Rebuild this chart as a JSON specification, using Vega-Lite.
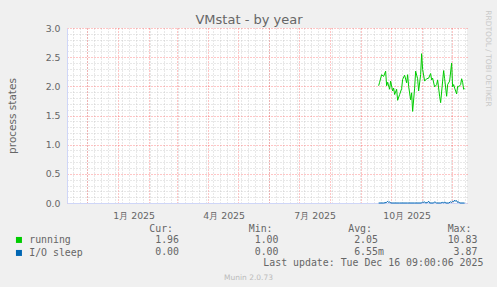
{
  "$schema": "https://vega.github.io/schema/vega-lite/v6.json",
  "width": 400,
  "height": 175,
  "autosize": {"type": "none"},
  "padding": {"left": 67, "top": 28, "right": 30, "bottom": 84},
  "background": "#F0F0F0",
  "title": {"text": "VMstat - by year", "anchor": "middle", "dx": -18, "fontSize": 13, "font": "DejaVu Sans", "fontWeight": "normal", "color": "#666666", "baseline": "alphabetic", "offset": -27},
  "config": {"view": {"fill": "#FFFFFF", "stroke": null}, "font": "DejaVu Sans"},
  "datasets": {
    "vmstat": [
      {"series": "running", "date": "2025-09-19", "value": 2.01},
      {"series": "running", "date": "2025-09-20", "value": 2.07},
      {"series": "running", "date": "2025-09-22", "value": 2.20},
      {"series": "running", "date": "2025-09-24", "value": 2.17},
      {"series": "running", "date": "2025-09-26", "value": 2.26},
      {"series": "running", "date": "2025-09-27", "value": 2.01},
      {"series": "running", "date": "2025-09-28", "value": 2.07},
      {"series": "running", "date": "2025-09-30", "value": 1.95},
      {"series": "running", "date": "2025-10-01", "value": 2.09},
      {"series": "running", "date": "2025-10-03", "value": 1.92},
      {"series": "running", "date": "2025-10-04", "value": 1.97},
      {"series": "running", "date": "2025-10-05", "value": 1.86},
      {"series": "running", "date": "2025-10-07", "value": 1.95},
      {"series": "running", "date": "2025-10-08", "value": 1.76},
      {"series": "running", "date": "2025-10-10", "value": 1.86},
      {"series": "running", "date": "2025-10-12", "value": 1.96},
      {"series": "running", "date": "2025-10-13", "value": 2.12},
      {"series": "running", "date": "2025-10-15", "value": 2.19},
      {"series": "running", "date": "2025-10-17", "value": 2.06},
      {"series": "running", "date": "2025-10-18", "value": 2.20},
      {"series": "running", "date": "2025-10-19", "value": 2.00},
      {"series": "running", "date": "2025-10-21", "value": 1.77},
      {"series": "running", "date": "2025-10-22", "value": 1.89},
      {"series": "running", "date": "2025-10-23", "value": 1.57},
      {"series": "running", "date": "2025-10-25", "value": 1.97},
      {"series": "running", "date": "2025-10-26", "value": 2.26},
      {"series": "running", "date": "2025-10-28", "value": 2.13},
      {"series": "running", "date": "2025-10-29", "value": 1.92},
      {"series": "running", "date": "2025-10-31", "value": 2.20},
      {"series": "running", "date": "2025-11-01", "value": 2.56},
      {"series": "running", "date": "2025-11-02", "value": 2.29},
      {"series": "running", "date": "2025-11-04", "value": 2.09},
      {"series": "running", "date": "2025-11-06", "value": 2.13},
      {"series": "running", "date": "2025-11-08", "value": 2.14},
      {"series": "running", "date": "2025-11-10", "value": 2.22},
      {"series": "running", "date": "2025-11-11", "value": 2.11},
      {"series": "running", "date": "2025-11-12", "value": 2.14},
      {"series": "running", "date": "2025-11-14", "value": 1.99},
      {"series": "running", "date": "2025-11-16", "value": 2.03},
      {"series": "running", "date": "2025-11-17", "value": 2.11},
      {"series": "running", "date": "2025-11-19", "value": 1.83},
      {"series": "running", "date": "2025-11-20", "value": 1.72},
      {"series": "running", "date": "2025-11-22", "value": 2.09},
      {"series": "running", "date": "2025-11-23", "value": 2.27},
      {"series": "running", "date": "2025-11-24", "value": 2.13},
      {"series": "running", "date": "2025-11-26", "value": 1.83},
      {"series": "running", "date": "2025-11-27", "value": 2.03},
      {"series": "running", "date": "2025-11-29", "value": 2.09},
      {"series": "running", "date": "2025-12-01", "value": 2.40},
      {"series": "running", "date": "2025-12-02", "value": 1.99},
      {"series": "running", "date": "2025-12-03", "value": 2.03},
      {"series": "running", "date": "2025-12-04", "value": 1.97},
      {"series": "running", "date": "2025-12-06", "value": 1.87},
      {"series": "running", "date": "2025-12-07", "value": 2.00},
      {"series": "running", "date": "2025-12-08", "value": 1.99},
      {"series": "running", "date": "2025-12-10", "value": 2.03},
      {"series": "running", "date": "2025-12-11", "value": 2.13},
      {"series": "running", "date": "2025-12-12", "value": 2.07},
      {"series": "running", "date": "2025-12-13", "value": 1.95},
      {"series": "running", "date": "2025-12-14", "value": 1.96},
      {"series": "I/O sleep", "date": "2025-09-19", "value": 0.0},
      {"series": "I/O sleep", "date": "2025-09-24", "value": 0.0},
      {"series": "I/O sleep", "date": "2025-09-27", "value": 0.01},
      {"series": "I/O sleep", "date": "2025-09-28", "value": 0.03},
      {"series": "I/O sleep", "date": "2025-09-29", "value": 0.01},
      {"series": "I/O sleep", "date": "2025-09-30", "value": 0.02},
      {"series": "I/O sleep", "date": "2025-10-01", "value": 0.0},
      {"series": "I/O sleep", "date": "2025-10-10", "value": 0.0},
      {"series": "I/O sleep", "date": "2025-10-18", "value": 0.0},
      {"series": "I/O sleep", "date": "2025-10-25", "value": 0.0},
      {"series": "I/O sleep", "date": "2025-11-01", "value": 0.0},
      {"series": "I/O sleep", "date": "2025-11-02", "value": 0.02},
      {"series": "I/O sleep", "date": "2025-11-03", "value": 0.01},
      {"series": "I/O sleep", "date": "2025-11-04", "value": 0.02},
      {"series": "I/O sleep", "date": "2025-11-05", "value": 0.0},
      {"series": "I/O sleep", "date": "2025-11-07", "value": 0.01},
      {"series": "I/O sleep", "date": "2025-11-08", "value": 0.03},
      {"series": "I/O sleep", "date": "2025-11-09", "value": 0.0},
      {"series": "I/O sleep", "date": "2025-11-13", "value": 0.0},
      {"series": "I/O sleep", "date": "2025-11-14", "value": 0.02},
      {"series": "I/O sleep", "date": "2025-11-15", "value": 0.01},
      {"series": "I/O sleep", "date": "2025-11-16", "value": 0.0},
      {"series": "I/O sleep", "date": "2025-11-20", "value": 0.0},
      {"series": "I/O sleep", "date": "2025-11-22", "value": 0.01},
      {"series": "I/O sleep", "date": "2025-11-23", "value": 0.0},
      {"series": "I/O sleep", "date": "2025-11-24", "value": 0.02},
      {"series": "I/O sleep", "date": "2025-11-25", "value": 0.0},
      {"series": "I/O sleep", "date": "2025-11-28", "value": 0.0},
      {"series": "I/O sleep", "date": "2025-11-30", "value": 0.02},
      {"series": "I/O sleep", "date": "2025-12-01", "value": 0.01},
      {"series": "I/O sleep", "date": "2025-12-02", "value": 0.03},
      {"series": "I/O sleep", "date": "2025-12-03", "value": 0.02},
      {"series": "I/O sleep", "date": "2025-12-04", "value": 0.05},
      {"series": "I/O sleep", "date": "2025-12-05", "value": 0.03},
      {"series": "I/O sleep", "date": "2025-12-06", "value": 0.04},
      {"series": "I/O sleep", "date": "2025-12-07", "value": 0.01},
      {"series": "I/O sleep", "date": "2025-12-08", "value": 0.02},
      {"series": "I/O sleep", "date": "2025-12-09", "value": 0.0},
      {"series": "I/O sleep", "date": "2025-12-14", "value": 0.0}
    ],
    "stats": [
      {"series": "running", "stat": "Cur:", "value": "1.96", "suffix": ""},
      {"series": "running", "stat": "Min:", "value": "1.00", "suffix": ""},
      {"series": "running", "stat": "Avg:", "value": "2.05", "suffix": ""},
      {"series": "running", "stat": "Max:", "value": "10.83", "suffix": ""},
      {"series": "I/O sleep", "stat": "Cur:", "value": "0.00", "suffix": ""},
      {"series": "I/O sleep", "stat": "Min:", "value": "0.00", "suffix": ""},
      {"series": "I/O sleep", "stat": "Avg:", "value": "6.55", "suffix": "m"},
      {"series": "I/O sleep", "stat": "Max:", "value": "3.87", "suffix": ""}
    ],
    "footer": [{"text": "Last update: Tue Dec 16 09:00:06 2025"}]
  },
  "layer": [
    {
      "layer": [
        {
          "data": {"name": "vmstat"},
          "transform": [{"filter": "datum.series == 'running'"}],
          "mark": {"type": "line", "strokeWidth": 1},
          "encoding": {
            "x": {"field": "date", "type": "temporal",
              "scale": {"type": "utc", "domain": [{"year": 2024, "month": 11, "date": 11, "hours": 9, "utc": true}, {"year": 2025, "month": 12, "date": 16, "hours": 9, "utc": true}]},
              "axis": {"orient": "bottom", "tickCount": {"interval": "week", "step": 1}, "grid": true, "gridColor": "#C0C0C0", "gridOpacity": 0.75, "gridDash": [1, 2], "labels": false, "ticks": false, "domain": true, "domainColor": "#CFD6F8", "domainWidth": 1, "title": null}},
            "y": {"field": "value", "type": "quantitative",
              "scale": {"domain": [0, 3], "nice": false},
              "axis": {"orient": "right", "values": [0.1, 0.2, 0.3, 0.4, 0.6, 0.7, 0.8, 0.9, 1.1, 1.2, 1.3, 1.4, 1.6, 1.7, 1.8, 1.9, 2.1, 2.2, 2.3, 2.4, 2.6, 2.7, 2.8, 2.9], "grid": true, "gridColor": "#C0C0C0", "gridOpacity": 0.75, "gridDash": [1, 2], "labels": false, "ticks": false, "domain": false,
                "title": "RRDTOOL / TOBI OETIKER", "titleAngle": 90, "titleX": 18, "titleY": 30, "titleAlign": "center", "titleAnchor": null, "titleBaseline": "alphabetic", "titleFontSize": 7.5, "titleColor": "#C8C8C8", "titleFontWeight": "normal", "titleFont": "DejaVu Sans"}},
            "color": {"field": "series", "type": "nominal",
              "scale": {"domain": ["running", "I/O sleep"], "range": ["#00CC00", "#0066B3"]},
              "legend": {"orient": "none", "legendX": -53, "legendY": 207, "title": null, "direction": "vertical", "symbolType": "square", "symbolSize": 36, "symbolStrokeWidth": 0, "labelFont": "DejaVu Sans Mono", "labelFontSize": 9.9, "labelColor": "#666666", "labelOffset": 5.3, "rowPadding": 2, "padding": 0,
                "encode": {"symbols": {"update": {"fill": {"scale": "color", "field": "value"}, "fillOpacity": {"value": 1}}}}}}
          }
        },
        {
          "data": {"name": "vmstat"},
          "transform": [{"filter": "datum.series == 'I/O sleep'"}],
          "mark": {"type": "line", "strokeWidth": 1},
          "encoding": {
            "x": {"field": "date", "type": "temporal",
              "scale": {"type": "utc", "domain": [{"year": 2024, "month": 11, "date": 11, "hours": 9, "utc": true}, {"year": 2025, "month": 12, "date": 16, "hours": 9, "utc": true}]},
              "axis": {"orient": "bottom", "tickCount": {"interval": "month", "step": 1}, "grid": true, "gridColor": "#FF0000", "gridOpacity": 0.45, "gridDash": [1, 2],
                "labelExpr": "utcmonth(datum.value) % 3 == 0 ? utcFormat(datum.value, '%-m月 %Y') : ''", "labelOffset": 16, "labelPadding": 15, "labelBaseline": "alphabetic", "labelFontSize": 9.33, "labelColor": "#666666", "labelFont": "DejaVu Sans", "labelOverlap": false, "labelFlush": false, "labelBound": false, "ticks": false, "domain": false, "title": null}},
            "y": {"field": "value", "type": "quantitative",
              "scale": {"domain": [0, 3], "nice": false},
              "axis": {"orient": "left", "values": [0, 0.5, 1, 1.5, 2, 2.5, 3], "format": ".1f", "grid": true, "gridColor": "#FF0000", "gridOpacity": 0.45, "gridDash": [1, 2], "ticks": false, "labelPadding": 7, "labelFontSize": 9.33, "labelColor": "#666666", "labelFont": "DejaVu Sans", "labelOverlap": false, "domain": true, "domainColor": "#CFD6F8",
                "title": "process states", "titleX": -52, "titleY": 87.5, "titleAngle": -90, "titleAlign": "center", "titleBaseline": "alphabetic", "titleFontSize": 10.5, "titleColor": "#666666", "titleFontWeight": "normal", "titleFont": "DejaVu Sans"}},
            "color": {"field": "series", "type": "nominal",
              "scale": {"domain": ["running", "I/O sleep"], "range": ["#00CC00", "#0066B3"]},
              "legend": {"orient": "none", "legendX": -53, "legendY": 207, "title": null, "direction": "vertical", "symbolType": "square", "symbolSize": 36, "symbolStrokeWidth": 0, "labelFont": "DejaVu Sans Mono", "labelFontSize": 9.9, "labelColor": "#666666", "labelOffset": 5.3, "rowPadding": 2, "padding": 0,
                "encode": {"symbols": {"update": {"fill": {"scale": "color", "field": "value"}, "fillOpacity": {"value": 1}}}}}}
          }
        }
      ],
      "resolve": {"axis": {"x": "independent", "y": "independent"}}
    },
    {
      "layer": [
        {
          "data": {"name": "stats"},
          "transform": [{"filter": "datum.series == 'running'"}],
          "mark": {"type": "text", "font": "DejaVu Sans Mono", "fontSize": 9.9, "color": "#666666", "baseline": "alphabetic", "align": "right", "dx": -5.95},
          "encoding": {
            "x": {"field": "stat", "type": "nominal", "scale": {"type": "point", "domain": ["Cur:", "Min:", "Avg:", "Max:"], "range": [112, 410.4], "padding": 0},
              "axis": {"orient": "bottom", "labels": false, "ticks": false, "domain": false, "grid": false, "title": "Munin 2.0.73", "titleX": 181, "titleY": 76, "titleAlign": "center", "titleBaseline": "alphabetic", "titleFontSize": 7.5, "titleColor": "#BBBBBB", "titleFontWeight": "normal", "titleFont": "DejaVu Sans"}},
            "y": {"datum": "header", "type": "nominal", "scale": {"type": "point", "domain": ["header", "running", "I/O sleep", "update"], "range": [203.5, 238], "padding": 0}, "axis": null},
            "text": {"field": "stat"}
          }
        },
        {
          "data": {"name": "stats"},
          "mark": {"type": "text", "font": "DejaVu Sans Mono", "fontSize": 9.9, "color": "#666666", "baseline": "alphabetic", "align": "right"},
          "encoding": {
            "x": {"field": "stat", "type": "nominal", "scale": {"type": "point", "domain": ["Cur:", "Min:", "Avg:", "Max:"], "range": [112, 410.4], "padding": 0},
              "axis": {"orient": "bottom", "labels": false, "ticks": false, "domain": false, "grid": false, "title": "Munin 2.0.73", "titleX": 181, "titleY": 76, "titleAlign": "center", "titleBaseline": "alphabetic", "titleFontSize": 7.5, "titleColor": "#BBBBBB", "titleFontWeight": "normal", "titleFont": "DejaVu Sans"}},
            "y": {"field": "series", "type": "nominal", "scale": {"type": "point", "domain": ["header", "running", "I/O sleep", "update"], "range": [203.5, 238], "padding": 0}, "axis": null},
            "text": {"field": "value"}
          }
        },
        {
          "data": {"name": "stats"},
          "mark": {"type": "text", "font": "DejaVu Sans Mono", "fontSize": 9.9, "color": "#666666", "baseline": "alphabetic", "align": "left"},
          "encoding": {
            "x": {"field": "stat", "type": "nominal", "scale": {"type": "point", "domain": ["Cur:", "Min:", "Avg:", "Max:"], "range": [112, 410.4], "padding": 0},
              "axis": {"orient": "bottom", "labels": false, "ticks": false, "domain": false, "grid": false, "title": "Munin 2.0.73", "titleX": 181, "titleY": 76, "titleAlign": "center", "titleBaseline": "alphabetic", "titleFontSize": 7.5, "titleColor": "#BBBBBB", "titleFontWeight": "normal", "titleFont": "DejaVu Sans"}},
            "y": {"field": "series", "type": "nominal", "scale": {"type": "point", "domain": ["header", "running", "I/O sleep", "update"], "range": [203.5, 238], "padding": 0}, "axis": null},
            "text": {"field": "suffix"}
          }
        },
        {
          "data": {"name": "footer"},
          "mark": {"type": "text", "font": "DejaVu Sans Mono", "fontSize": 9.9, "color": "#666666", "baseline": "alphabetic", "align": "right", "dx": 5.95},
          "encoding": {
            "x": {"datum": "Max:", "type": "nominal", "scale": {"type": "point", "domain": ["Cur:", "Min:", "Avg:", "Max:"], "range": [112, 410.4], "padding": 0},
              "axis": {"orient": "bottom", "labels": false, "ticks": false, "domain": false, "grid": false, "title": "Munin 2.0.73", "titleX": 181, "titleY": 76, "titleAlign": "center", "titleBaseline": "alphabetic", "titleFontSize": 7.5, "titleColor": "#BBBBBB", "titleFontWeight": "normal", "titleFont": "DejaVu Sans"}},
            "y": {"datum": "update", "type": "nominal", "scale": {"type": "point", "domain": ["header", "running", "I/O sleep", "update"], "range": [203.5, 238], "padding": 0}, "axis": null},
            "text": {"field": "text"}
          }
        }
      ]
    }
  ],
  "resolve": {"scale": {"x": "independent", "y": "independent"}, "axis": {"x": "independent", "y": "independent"}}
}
